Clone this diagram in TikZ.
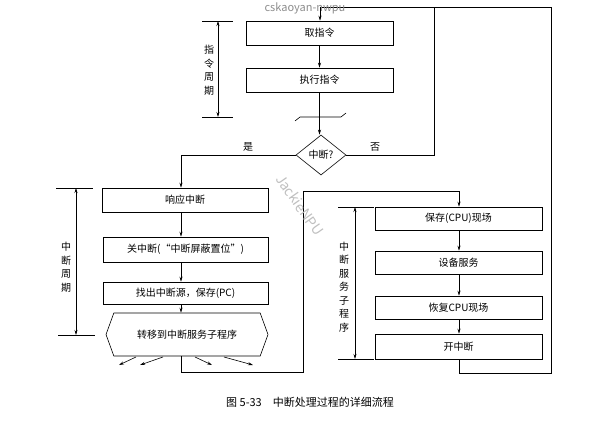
\documentclass[tikz,border=0pt]{standalone}
\usepackage{fontspec}
\setmainfont{Noto Sans CJK SC}
\usetikzlibrary{arrows.meta,shapes.misc,shapes.geometric,shapes.symbols}

\tikzset{
    stepbox/.style={draw, minimum height=24pt, inner sep=0pt, font=\fontsize{10}{12}\selectfont},
    arr/.style={-{Stealth[length=5pt,width=3pt]}},
    dim/.style={{Stealth[length=5pt,width=3pt]}-{Stealth[length=5pt,width=3pt]}},
    vtext/.style={font=\fontsize{10}{13.5}\selectfont, align=center, inner sep=0pt},
}

\begin{document}
\begin{tikzpicture}[x=1pt, y=-1pt, line width=0.6pt]% Example:
\useasboundingbox (0,0) rectangle (610,423);

% instruction cycle
\node[stepbox, minimum width=147pt] (fetch) at (319.5,33) {取指令};
\node[stepbox, minimum width=147pt] (exec) at (319.5,80) {执行指令};
\node[draw, diamond, aspect=1.25, inner sep=1pt, minimum width=50pt, minimum height=40pt,
      font=\fontsize{10}{12}\selectfont] (ask) at (321,155) {中断?};
\draw[arr] (fetch) -- (fetch.south|-exec.north);
\draw[arr] (exec.south) -- (exec.south|-ask.north);
\draw (295,121) -- (300,117) -- (341,117) -- (346,113);
\node at (248,147) {\fontsize{10}{12}\selectfont 是};
\node at (375,147) {\fontsize{10}{12}\selectfont 否};

% interrupt cycle
\node[stepbox, minimum width=166pt] (ack) at (185,200) {响应中断};
\node[stepbox, minimum width=165pt, minimum height=25pt] (mask) at (185.5,249.5) {关中断(“中断屏蔽置位”)};
\node[stepbox, minimum width=165pt, minimum height=22pt] (pc) at (185.5,293) {找出中断源，保存(PC)};
\node[draw, signal, signal to=west and east, signal pointer angle=140, minimum width=162pt,
      minimum height=43pt, inner sep=0pt, font=\fontsize{10}{12}\selectfont] (jump) at (187,334.5) {转移到中断服务子程序};
\draw[arr] (ask.west) -- (181,155) -- (ack.north-|181,0);
\draw[arr] (ack.south-|181,0) -- (mask.north-|181,0);
\draw[arr] (mask.south-|181,0) -- (pc.north-|181,0);
\draw[arr] (pc.south-|181,0) -- (jump.north-|181,0);
\draw[arr] (136,357) -- (119,365);
\draw[arr] (163,357) -- (140,365);
\draw[arr] (195,357) -- (212,365);
\draw[arr] (224,357) -- (253,365);

% service routine
\node[stepbox, minimum width=167pt, minimum height=23pt] (save) at (458.5,218.5) {保存(CPU)现场};
\node[stepbox, minimum width=167pt, minimum height=23pt] (serve) at (458.5,262.5) {设备服务};
\node[stepbox, minimum width=167pt, minimum height=23pt] (restore) at (458.5,307.5) {恢复CPU现场};
\node[stepbox, minimum width=167pt, minimum height=25pt] (enable) at (458.5,346.5) {开中断};
\draw[arr] (jump.south-|181,0) -- (181,372) -- (303,372) -- (303,191) -- (459,191) -- (save.north-|459,0);
\draw[arr] (save.south-|459,0) -- (serve.north-|459,0);
\draw[arr] (serve.south-|459,0) -- (restore.north-|459,0);
\draw[arr] (restore.south-|459,0) -- (enable.north-|459,0);
\draw[arr] (enable.south-|459,0) -- (459,373) -- (551,373) -- (551,7) -- (320,7) -- (fetch.north-|320,0);
\draw (ask.east) -- (434,155) -- (434,7);

% cycle marks
\draw (202,21) -- (233,21);
\draw (202,117) -- (233,117);
\draw[dim] (218,21) -- (218,117);
\node[vtext] (icyc) at (209,70) {指\\令\\周\\期};
\draw (56,188) -- (93,188);
\draw (58,335) -- (95,335);
\draw[dim] (76,188) -- (76,335);
\node[vtext] (intcyc) at (66,267) {中\\断\\周\\期};
\draw (338,207) -- (374,207);
\draw (338,359) -- (374,359);
\draw[dim] (355,207) -- (355,359);
\node[vtext] (srvcyc) at (344,287) {中\\断\\服\\务\\子\\程\\序};

% caption and marks
\node (cap) at (310,402) {\fontsize{11}{13}\selectfont 图 5-33\quad 中断处理过程的详细流程};
\node[text=black!45] (wm1) at (305,8) {\fontsize{11}{13}\selectfont cskaoyan-nwpu};
\node[text=black!25, rotate=-55] (wm2) at (300,205) {\fontsize{14}{16}\selectfont JackieNPU};

\end{tikzpicture}
\end{document}
